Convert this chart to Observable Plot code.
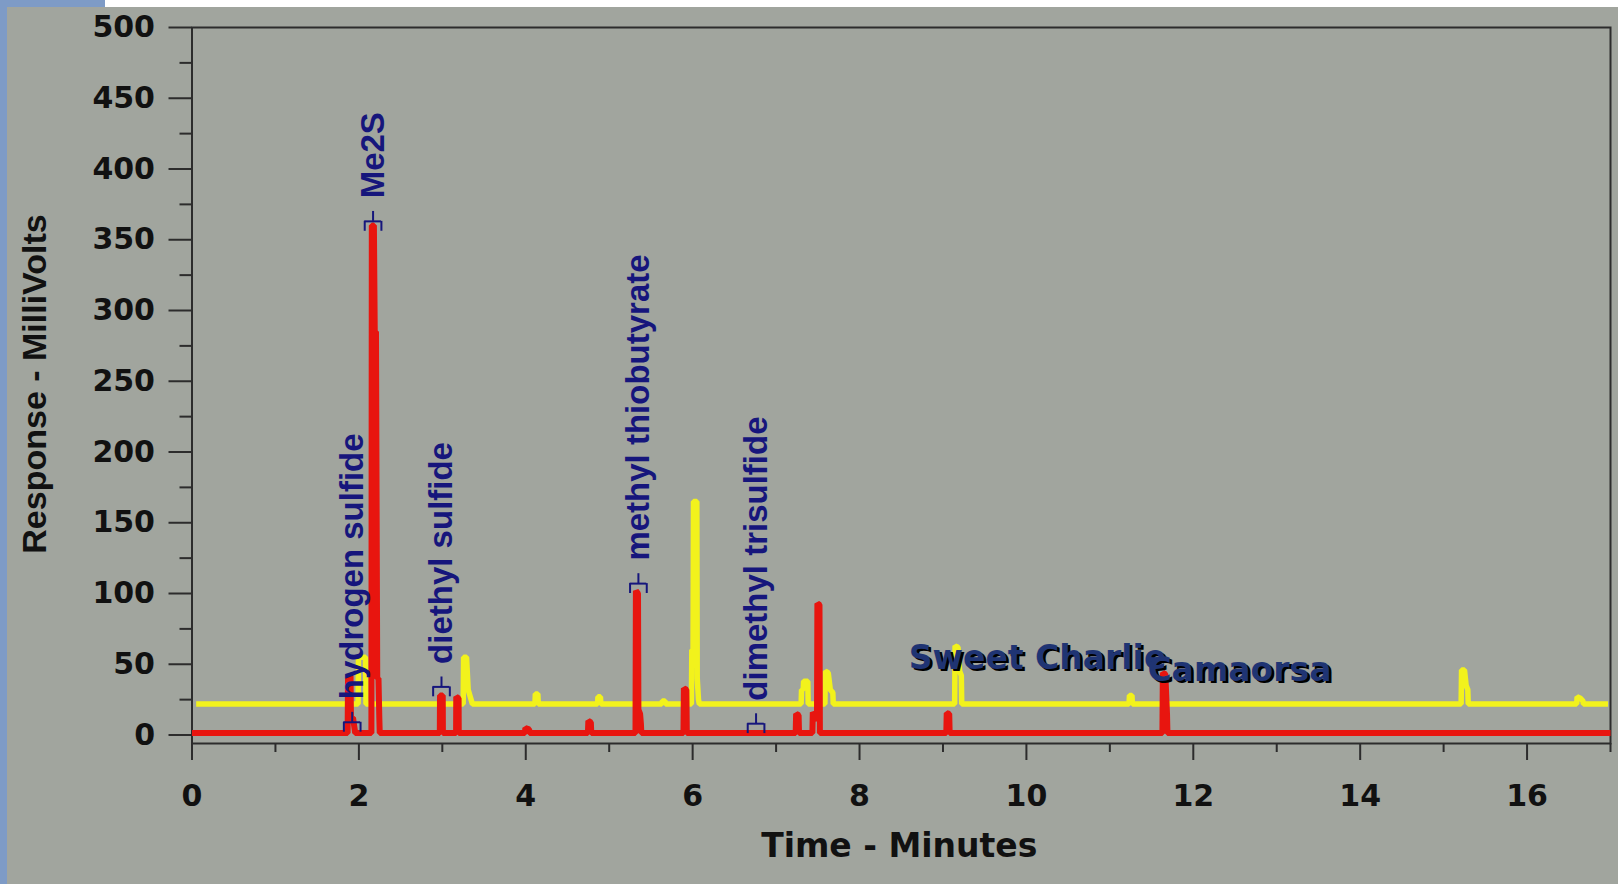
<!DOCTYPE html>
<html><head><meta charset="utf-8">
<script src="https://cdn.jsdelivr.net/npm/d3@7"></script>
<script src="https://cdn.jsdelivr.net/npm/@observablehq/plot@0.6"></script>
<style>
html,body{margin:0;padding:0;background:#a1a59e;width:1618px;height:884px;overflow:hidden;}
#chart{position:absolute;left:0;top:0;}
.strip{position:absolute;}
</style></head><body>
<div id="chart"></div>
<div class="strip" style="left:0;top:0;width:7px;height:884px;background:#7e9bc6;"></div>
<div class="strip" style="left:0;top:0;width:105px;height:7px;background:#7e9bc6;"></div>
<div class="strip" style="left:105px;top:0;width:1513px;height:7px;background:#ffffff;"></div>
<script>
// Yellow trace (Sweet Charlie)
const yellowTime = [0.05, 1.99, 1.995, 2.04, 2.08, 2.085, 3.25, 3.255, 3.29, 3.31, 3.34, 3.36, 4.11, 4.115, 4.145, 4.15, 4.86, 4.865, 4.895, 4.90, 5.63, 5.635, 5.67, 5.675, 5.985, 5.99, 6.005, 6.01, 6.05, 6.055, 6.07, 6.08, 7.30, 7.305, 7.325, 7.33, 7.38, 7.385, 7.585, 7.59, 7.625, 7.65, 7.68, 7.685, 9.14, 9.145, 9.18, 9.20, 9.22, 9.225, 11.23, 11.235, 11.265, 11.27, 15.21, 15.215, 15.25, 15.27, 15.29, 15.295, 16.595, 16.60, 16.64, 16.67, 16.675, 16.97];
const yellowMv = [22, 22, 55, 55, 55, 22, 22, 55, 55, 32, 26, 22, 22, 29, 29, 22, 22, 27, 27, 22, 22, 24, 24, 22, 22, 60, 60, 165, 165, 40, 25, 22, 22, 32, 32, 38, 38, 22, 22, 45, 44, 32, 30, 22, 22, 63, 62, 45, 42, 22, 22, 28, 28, 22, 22, 46, 46, 35, 32, 22, 22, 27, 26, 24, 22, 22];
// Red trace (Camaorsa)
const redTime = [0, 1.865, 1.87, 1.90, 1.905, 1.93, 1.95, 1.955, 2.15, 2.155, 2.18, 2.19, 2.205, 2.22, 2.235, 2.245, 2.25, 2.97, 2.972, 3.005, 3.007, 3.165, 3.167, 3.195, 3.197, 3.99, 3.995, 4.04, 4.045, 4.745, 4.75, 4.78, 4.785, 5.315, 5.32, 5.345, 5.35, 5.37, 5.38, 5.385, 5.89, 5.895, 5.925, 5.93, 7.235, 7.24, 7.27, 7.275, 7.435, 7.44, 7.465, 7.49, 7.495, 7.52, 7.525, 9.04, 9.045, 9.075, 9.08, 11.63, 11.635, 11.665, 11.685, 11.69, 17];
const redMv = [1.5, 1.5, 40, 42, 12, 12, 4, 1.5, 1.5, 360, 360, 285, 285, 40, 40, 12, 1.5, 1.5, 28, 28, 1.5, 1.5, 27, 26, 1.5, 1.5, 5, 4, 1.5, 1.5, 10, 9, 1.5, 1.5, 102, 100, 18, 15, 8, 1.5, 1.5, 33, 32, 1.5, 1.5, 15, 14, 1.5, 1.5, 16, 14, 10, 93, 92, 1.5, 1.5, 15.5, 15, 1.5, 1.5, 44, 43, 15, 1.5, 1.5];
// Compound peak labels
const peakNames = ["hydrogen sulfide", "Me2S", "diethyl sulfide", "methyl thiobutyrate", "dimethyl trisulfide"];
const peakTimes = [1.92, 2.17, 2.99, 5.35, 6.76];
const peakLevels = [9, 363, 34, 107, 8];
// Sample legend labels
const sampleNames = ["Sweet Charlie", "Camaorsa"];
const sampleTimes = [8.59, 11.45];
const sampleLevels = [47, 38.5];
// Axis ticks
const yMajor = [0, 50, 100, 150, 200, 250, 300, 350, 400, 450, 500];
const yMinor = [25, 75, 125, 175, 225, 275, 325, 375, 425, 475];
const xMajor = [0, 2, 4, 6, 8, 10, 12, 14, 16];
const xMinor = [1, 3, 5, 7, 9, 11, 13, 15, 17];
const xTitle = "Time - Minutes";
const yTitle = "Response - MilliVolts";

const yellowData = yellowTime.map((t, i) => ({t, v: yellowMv[i]}));
const redData = redTime.map((t, i) => ({t, v: redMv[i]}));
const peaks = peakNames.map((name, i) => ({name, t: peakTimes[i], level: peakLevels[i]}));
const samples = sampleNames.map((name, i) => ({name, t: sampleTimes[i], level: sampleLevels[i]}));

const navy = "#16167c";
const axisColor = "#2c2c2c";
const bw = 0.1;   // bracket half width (minutes)
const bh = 7;     // bracket height (mV)

const chart = Plot.plot({
  width: 1618, height: 884,
  marginLeft: 191.5, marginRight: 8, marginTop: 27, marginBottom: 141,
  x: {domain: [0, 17], label: null},
  y: {domain: [-6, 500], label: null},
  style: {background: "none", fontFamily: "DejaVu Sans", fontWeight: "bold", fontSize: "30px", color: "#111"},
  marks: [
    Plot.frame({stroke: axisColor, strokeWidth: 2}),
    Plot.axisY({ticks: yMajor, tickSize: 23, tickPadding: 14, tickFormat: d => String(d), stroke: axisColor, strokeWidth: 2, fill: "#111", fontSize: 30, fontFamily: "DejaVu Sans", fontWeight: "bold", label: null}),
    Plot.axisY({ticks: yMinor, tickSize: 12, tickFormat: () => "", stroke: axisColor, strokeWidth: 2, label: null}),
    Plot.axisX({ticks: xMajor, tickSize: 17, tickPadding: 24, tickFormat: d => String(d), stroke: axisColor, strokeWidth: 2, fill: "#111", fontSize: 30, fontFamily: "DejaVu Sans", fontWeight: "bold", label: null}),
    Plot.axisX({ticks: xMinor, tickSize: 9, tickFormat: () => "", stroke: axisColor, strokeWidth: 2, label: null}),
    Plot.text([xTitle], {text: d => d, frameAnchor: "bottom", textAnchor: "middle", lineAnchor: "middle", dx: -2, dy: 102.5, fontFamily: "DejaVu Sans", fontWeight: "bold", fontSize: 33, fill: "#111"}),
    Plot.text([yTitle], {text: d => d, frameAnchor: "left", textAnchor: "middle", lineAnchor: "middle", rotate: -90, dx: -156.5, dy: -1.5, fontFamily: "Liberation Sans", fontWeight: "bold", fontSize: 34, fill: "#111"}),
    Plot.line(yellowData, {x: "t", y: "v", stroke: "#f2f21c", strokeWidth: 5.5, strokeLinejoin: "miter", strokeLinecap: "butt"}),
    Plot.line(redData, {x: "t", y: "v", stroke: "#e8150f", strokeWidth: 6, strokeLinejoin: "miter", strokeLinecap: "butt"}),
    // peak brackets
    Plot.ruleY(peaks, {y: "level", x1: d => d.t - bw, x2: d => d.t + bw, stroke: navy, strokeWidth: 2}),
    Plot.ruleX(peaks, {x: d => d.t - bw, y1: "level", y2: d => d.level - bh, stroke: navy, strokeWidth: 2}),
    Plot.ruleX(peaks, {x: d => d.t + bw, y1: "level", y2: d => d.level - bh, stroke: navy, strokeWidth: 2}),
    Plot.ruleX(peaks, {x: "t", y1: "level", y2: d => d.level + bh, stroke: navy, strokeWidth: 2}),
    Plot.text(peaks, {x: "t", y: "level", text: "name", rotate: -90, textAnchor: "start", dy: -23, fill: navy, fontFamily: "Liberation Sans", fontWeight: "bold", fontSize: 33}),
    // sample labels with shadow
    Plot.text(samples, {x: "t", y: "level", text: "name", textAnchor: "start", lineAnchor: "bottom", dx: 2.5, dy: 2.5, fill: "#000", fontFamily: "DejaVu Sans", fontWeight: "bold", fontSize: 33}),
    Plot.text(samples, {x: "t", y: "level", text: "name", textAnchor: "start", lineAnchor: "bottom", fill: "#1f3473", fontFamily: "DejaVu Sans", fontWeight: "bold", fontSize: 33})
  ]
});
document.getElementById("chart").appendChild(chart);
</script>
</body></html>
